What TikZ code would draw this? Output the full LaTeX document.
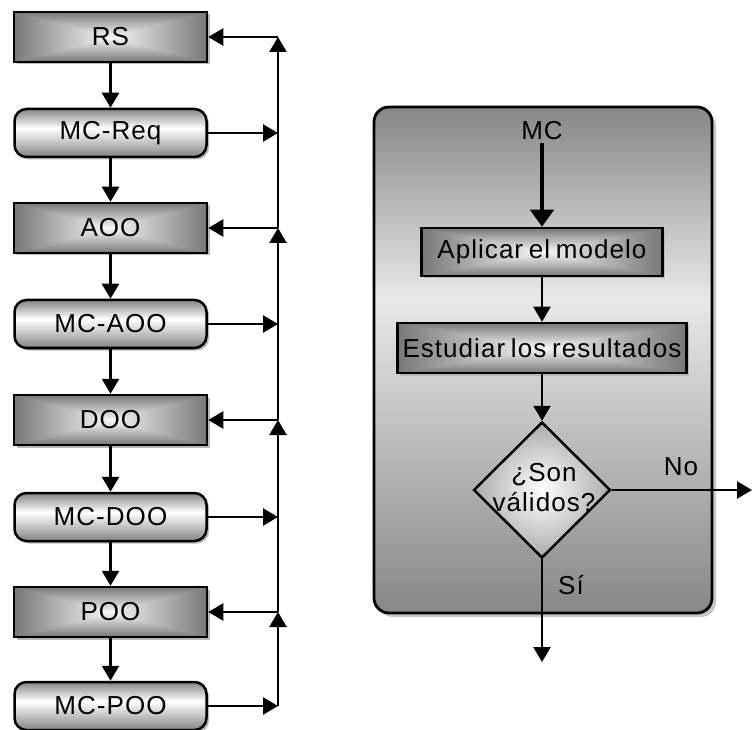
\documentclass[tikz,border=0pt]{standalone}
\usepackage{fontspec}
\setmainfont{Liberation Sans}[LetterSpace=4,WordSpace=0.7]
\usetikzlibrary{arrows.meta,shapes.geometric,shadows}

% box-shaped grey ramp: dark edges, light centre
\pgfdeclarefunctionalshading{stepshade}{\pgfpointorigin}{\pgfpoint{100bp}{100bp}}{}{
  50 sub abs exch 50 sub abs 2 copy lt {exch} if pop 25 div
  dup 1 gt {pop 1} if
  0.50 mul 0.97 exch sub dup dup
}
\definecolor{mcgray}{gray}{0.52}
\definecolor{panelgray}{gray}{0.53}
\definecolor{panellight}{gray}{0.91}
\pgfdeclareverticalshading{mcshade}{100bp}{color(0bp)=(mcgray); color(25bp)=(mcgray); color(55bp)=(white); color(75bp)=(mcgray); color(100bp)=(mcgray)}
\pgfdeclareverticalshading{panelshade}{100bp}{color(0bp)=(panelgray); color(25bp)=(panelgray); color(56bp)=(panellight); color(75bp)=(panelgray); color(100bp)=(panelgray)}

\tikzset{
  txt/.style={font=\fontsize{26}{30}\selectfont},
  boxshadow/.style={drop shadow={shadow xshift=2.5pt,shadow yshift=-2.5pt,fill=gray!55,opacity=1}},
  stepbox/.style={txt,draw,line width=2.5pt,minimum width=193pt,minimum height=50pt,inner sep=0pt,shading=stepshade,boxshadow},
  mcbox/.style={txt,draw,line width=2.5pt,rounded corners=12pt,minimum width=192pt,minimum height=48pt,inner sep=0pt,shading=mcshade,boxshadow},
  conn/.style={line width=2.4pt,-{Triangle[length=15pt,width=17pt]}},
  plain/.style={line width=2.4pt},
  bigconn/.style={line width=4.5pt,-{Triangle[length=17pt,width=23pt]}},
}

\begin{document}
\begin{tikzpicture}[x=1pt,y=-1pt]
\useasboundingbox (0,0) rectangle (753,730);

% ---- left column: phases and their checks ----
\node[stepbox] (rs)    at (110.5,37)  {RS};
\node[mcbox]   (mcreq) at (110.5,133) {MC-Req};
\node[stepbox] (aoo)   at (110.5,228) {AOO};
\node[mcbox]   (mcaoo) at (110.5,324) {MC-AOO};
\node[stepbox] (doo)   at (110.5,420) {DOO};
\node[mcbox]   (mcdoo) at (110.5,517) {MC-DOO};
\node[stepbox] (poo)   at (110.5,612) {POO};
\node[mcbox]   (mcpoo) at (110.5,706) {MC-POO};

\foreach \a/\b in {rs/mcreq,mcreq/aoo,aoo/mcaoo,mcaoo/doo,doo/mcdoo,mcdoo/poo,poo/mcpoo}
  \draw[conn] (\a.south) -- (\b.north);

% feedback spine
\coordinate (jrs)    at (278,37);
\coordinate (jmcreq) at (278,133);
\coordinate (jaoo)   at (278,228);
\coordinate (jmcaoo) at (278,324);
\coordinate (jdoo)   at (278,420);
\coordinate (jmcdoo) at (278,517);
\coordinate (jpoo)   at (278,612);
\coordinate (jmcpoo) at (278,706);

\foreach \m/\s/\t in {mcreq/jmcreq/rs,mcaoo/jmcaoo/aoo,mcdoo/jmcdoo/doo,mcpoo/jmcpoo/poo}{
  \draw[conn] (\m.east) -- (\s);
  \draw[conn] (\s) -- (j\t);
  \draw[conn] (j\t) -- (\t.east);
}
\draw[plain] (jaoo) -- (jmcreq);
\draw[plain] (jdoo) -- (jmcaoo);
\draw[plain] (jpoo) -- (jmcdoo);

% ---- right panel: checking a model ----
\node[draw,line width=2.8pt,rounded corners=15pt,minimum width=338pt,minimum height=506pt,
      shading=panelshade,drop shadow={shadow xshift=4pt,shadow yshift=-4pt,fill=gray!45,opacity=1}]
      (panel) at (543,360) {};

\node[txt,inner sep=3pt] (mc) at (542,131) {MC};
\node[txt,draw,line width=2.5pt,minimum width=241pt,minimum height=48pt,inner sep=0pt,shading=stepshade,boxshadow]
      (apply) at (542,252) {Aplicar el modelo};
\node[txt,draw,line width=2.5pt,minimum width=289pt,minimum height=50pt,inner sep=0pt,shading=stepshade,boxshadow]
      (study) at (542,348) {Estudiar los resultados};
\node[diamond,draw,line width=2.5pt,minimum width=137pt,minimum height=136pt,inner sep=0pt,
      shading=radial,inner color=white,outer color=gray!95!black!62]
      (valid) at (542,490) {};
\node[txt,align=center,inner sep=0pt] (validtxt) at (544,488) {¿Son\\válidos?};

\coordinate (noend) at (752,490);
\coordinate (siend) at (542,662);

\draw[bigconn] (mc.south) -- (apply.north);
\draw[conn] (apply.south) -- (study.north);
\draw[conn] (study.south) -- (valid.north);
\draw[conn] (valid.east) -- (noend);
\draw[conn] (valid.south) -- (siend);

\node[txt] (nolbl) at (681,467) {No};
\node[txt] (silbl) at (571,585) {Sí};
\end{tikzpicture}
\end{document}
